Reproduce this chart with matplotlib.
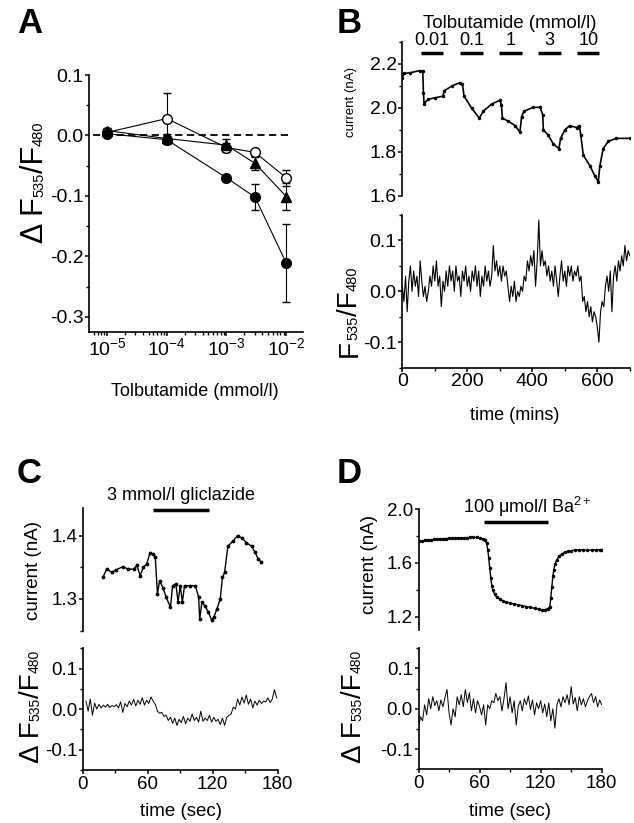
import numpy as np
import matplotlib
matplotlib.use('Agg')
import matplotlib.pyplot as plt
from matplotlib.ticker import MultipleLocator, FormatStrFormatter, LogLocator, NullFormatter

plt.rcParams['font.family'] = ['Liberation Sans', 'DejaVu Sans']
plt.rcParams['mathtext.fontset'] = 'custom'
plt.rcParams['mathtext.rm'] = 'Liberation Sans'
plt.rcParams['mathtext.it'] = 'Liberation Sans:italic'
plt.rcParams['mathtext.bf'] = 'Liberation Sans:bold'

# ---- panel A: dose response
conc = [1e-5, 1e-4, 1e-3, 3e-3, 1e-2]
open_mean = [0.005, 0.028, -0.020, -0.028, -0.070]
open_err = [0.004, 0.042, 0.008, 0.006, 0.013]
tri_mean = [0.008, -0.005, -0.016, -0.046, -0.101]
tri_err = [0.004, 0.008, 0.010, 0.011, 0.022]
fill_mean = [0.003, -0.007, -0.070, -0.102, -0.211]
fill_err = [0.004, 0.006, 0.005, 0.022, 0.065]

# ---- panel B: tolbutamide current trace (time in mins, current in nA)
b_t = [0, 5, 23, 54, 63, 65, 67, 80, 100, 126, 128, 152, 177, 185, 190, 213, 237, 249,
       275, 300, 305, 308, 326, 347, 362, 367, 374, 403, 424, 432, 434, 449, 464, 482,
       487, 500, 515, 536, 545, 549, 557, 577, 593, 603, 608, 618, 634, 659, 700]
b_cur = [2.138, 2.157, 2.160, 2.170, 2.166, 2.070, 2.020, 2.040, 2.046, 2.054, 2.077, 2.100,
         2.115, 2.108, 2.054, 2.000, 1.954, 1.985, 2.018, 2.035, 2.015, 1.954, 1.940, 1.920,
         1.890, 1.960, 1.985, 2.003, 2.003, 1.970, 1.900, 1.877, 1.838, 1.815, 1.862, 1.900,
         1.920, 1.911, 1.920, 1.877, 1.785, 1.738, 1.690, 1.665, 1.738, 1.815, 1.849, 1.862, 1.862]
tolb_conc = ['0.01', '0.1', '1', '3', '10']
tolb_start = [57, 177, 298, 418, 538]
tolb_end = [126, 249, 367, 487, 606]

# fluorescence ratio, every 5 min from 0 to 700
b_fret = [0.01, -0.02, 0.03, -0.04, 0.02, 0.05, 0.00, 0.04, 0.01, 0.03,
          -0.01, 0.06, 0.02, -0.01, 0.01, -0.02, 0.00, 0.03, 0.01, 0.05,
          0.02, 0.06, 0.01, 0.03, -0.03, 0.02, 0.00, 0.04, 0.01, 0.05,
          0.02, 0.04, 0.00, 0.05, 0.02, 0.03, -0.01, 0.04, 0.02, 0.05,
          0.01, 0.03, 0.00, 0.04, 0.02, 0.05, 0.01, 0.04, -0.01, 0.03,
          0.01, 0.05, 0.02, 0.04, 0.01, 0.03, 0.09, 0.04, 0.06, 0.03,
          0.05, 0.02, 0.05, 0.03, 0.04, 0.01, -0.02, 0.01, -0.01, 0.02,
          -0.02, 0.00, -0.01, 0.01, 0.00, 0.03, 0.02, 0.06, 0.04, 0.07,
          0.05, 0.08, 0.01, 0.06, 0.14, 0.05, 0.08, 0.05, 0.06, 0.03,
          0.05, 0.02, 0.04, 0.01, 0.05, 0.02, -0.01, 0.03, 0.06, 0.02,
          0.04, 0.01, 0.05, 0.03, 0.05, 0.02, 0.04, 0.03, 0.05, 0.02,
          0.03, -0.02, -0.01, -0.04, -0.02, -0.05, -0.03, -0.06, -0.04, -0.05,
          -0.07, -0.10, -0.04, -0.02, -0.03, 0.01, 0.03, 0.00, 0.04, -0.04,
          0.03, 0.05, 0.02, 0.06, 0.04, 0.07, 0.05, 0.09, 0.06, 0.08, 0.07]
b_fret_t = np.arange(len(b_fret)) * 5

# ---- panel C: gliclazide (time in sec)
c_t = [19, 22, 27, 31, 37, 42, 47, 50, 53, 56, 59, 62, 65, 67, 69, 71, 74, 77, 81, 83,
       86, 88, 90, 92, 94, 99, 104, 107, 108, 110, 113, 116, 119, 121, 124, 127, 129,
       131, 134, 139, 143, 147, 151, 156, 159, 162, 165]
c_cur = [1.335, 1.347, 1.342, 1.346, 1.351, 1.347, 1.347, 1.353, 1.337, 1.350, 1.355,
         1.372, 1.371, 1.366, 1.308, 1.329, 1.318, 1.303, 1.287, 1.321, 1.324, 1.295,
         1.321, 1.295, 1.321, 1.321, 1.321, 1.303, 1.268, 1.295, 1.289, 1.279, 1.267,
         1.271, 1.285, 1.300, 1.334, 1.342, 1.383, 1.392, 1.400, 1.396, 1.389, 1.383,
         1.374, 1.363, 1.358]
c_fret = [0.020, -0.005, 0.025, -0.015, 0.015, 0.000, 0.012, 0.003, 0.010, 0.005,
          0.012, 0.004, 0.009, 0.006, 0.011, 0.003, 0.018, -0.008, 0.014, 0.006,
          0.020, 0.010, 0.024, 0.008, 0.022, 0.012, 0.028, 0.010, 0.022, 0.014,
          0.030, 0.020, 0.012, -0.005, -0.010, -0.008, -0.018, -0.015, -0.028, -0.020,
          -0.035, -0.022, -0.040, -0.025, -0.033, -0.018, -0.036, -0.022, -0.030, -0.012,
          -0.028, -0.020, -0.032, -0.005, -0.030, -0.022, -0.028, -0.015, -0.032, -0.020,
          -0.030, -0.025, -0.038, -0.022, -0.040, -0.020, -0.015, -0.012, 0.005, 0.000,
          0.025, 0.010, 0.030, 0.015, 0.035, 0.012, 0.025, 0.003, 0.020, 0.010,
          0.022, 0.014, 0.020, 0.018, 0.028, 0.016, 0.025, 0.048, 0.028]
c_fret_t = 3 + np.arange(len(c_fret)) * 2

# ---- panel D: barium
d_t = [0, 3, 6, 9, 12, 15, 18, 21, 24, 27, 30, 33, 36, 39, 42, 45, 48, 51, 54, 57, 60, 63,
       65, 67, 68, 69, 70, 71, 72, 73, 75, 77, 80, 83, 86, 90, 94, 98, 102, 106, 110, 114,
       118, 121, 124, 127, 129, 130, 131, 132, 133, 134, 136, 138, 141, 144, 147, 150, 154,
       158, 162, 166, 170, 174, 178, 180]
d_cur = [1.760, 1.765, 1.768, 1.770, 1.772, 1.776, 1.778, 1.779, 1.781, 1.782, 1.783,
         1.784, 1.785, 1.786, 1.787, 1.788, 1.789, 1.790, 1.792, 1.790, 1.786, 1.780,
         1.772, 1.745, 1.700, 1.640, 1.560, 1.490, 1.430, 1.395, 1.365, 1.345, 1.328,
         1.316, 1.308, 1.300, 1.294, 1.288, 1.282, 1.275, 1.268, 1.262, 1.255, 1.250,
         1.252, 1.258, 1.275, 1.340, 1.420, 1.500, 1.550, 1.590, 1.625, 1.650, 1.668,
         1.680, 1.688, 1.692, 1.695, 1.698, 1.697, 1.694, 1.696, 1.698, 1.699, 1.699]
d_fret = [-0.045, -0.020, -0.030, 0.010, -0.015, 0.025, 0.000, 0.030, 0.008, 0.020,
          -0.005, 0.022, 0.005, 0.028, 0.048, -0.010, -0.040, 0.000, -0.020, 0.030,
          0.010, 0.035, 0.005, 0.048, 0.015, 0.040, -0.005, 0.025, -0.010, 0.020,
          0.005, -0.015, 0.010, -0.040, 0.010, 0.000, 0.020, 0.015, 0.038, 0.020,
          0.030, -0.005, 0.025, 0.065, 0.000, 0.030, -0.010, 0.020, -0.040, 0.005,
          0.020, -0.005, 0.025, 0.010, 0.032, -0.002, 0.022, -0.015, 0.015, 0.000,
          0.020, -0.010, 0.012, -0.020, 0.015, -0.030, 0.000, -0.048, 0.010, 0.025,
          0.005, 0.030, 0.015, 0.035, 0.010, 0.055, 0.012, 0.028, -0.005, 0.030,
          0.010, 0.025, 0.005, 0.020, 0.030, 0.038, 0.015, 0.030, 0.005, 0.022, 0.010]
d_fret_t = np.arange(len(d_fret)) * 2

W, H = 634, 823
fig = plt.figure(figsize=(W / 100, H / 100), dpi=100)


def box(l, t, r, b):
    # pixel box (image coords) -> figure rect
    return [l / W, 1 - b / H, (r - l) / W, (b - t) / H]


def style(ax, tick_size, bottom=True):
    for s in ['top', 'right']:
        ax.spines[s].set_visible(False)
    for s in ['left', 'bottom']:
        ax.spines[s].set_linewidth(1.2)
    ax.tick_params(which='major', direction='out', length=3, width=1.1, labelsize=tick_size, pad=1)
    ax.tick_params(which='minor', direction='out', length=2, width=1.0)
    if not bottom:
        ax.spines['bottom'].set_visible(False)
        ax.tick_params(axis='x', which='both', bottom=False, labelbottom=False)


def stack_label(x, y, parts):
    # rotated label built from pieces so the subscripts can be small
    r = fig.canvas.get_renderer()
    for s, size in parts:
        t = fig.text(x / W, 1 - y / H, s, fontsize=size, rotation=90,
                     rotation_mode='anchor', ha='left', va='baseline')
        y -= t.get_window_extent(r).height


def fret_axis(ax, xmax, major, minor):
    ax.set_ylim(-0.15, 0.15)
    ax.yaxis.set_major_locator(MultipleLocator(0.1))
    ax.yaxis.set_minor_locator(MultipleLocator(0.05))
    ax.yaxis.set_major_formatter(FormatStrFormatter('%.1f'))
    ax.set_xlim(0, xmax)
    ax.xaxis.set_major_locator(MultipleLocator(major))
    ax.xaxis.set_minor_locator(MultipleLocator(minor))


# ---------------- A
axA = fig.add_axes(box(89, 75, 303, 332))
axA.set_xscale('log')
axA.plot([10 ** -5.23, 10 ** -1.95], [0, 0], 'k', ls=(0, (4, 2.5)), lw=1.3)
axA.errorbar(conc, open_mean, yerr=open_err, fmt='o-', color='k', mfc='white', mec='k',
             ms=7, lw=0.8, capsize=3, elinewidth=0.8, mew=1.0)
axA.errorbar(conc, tri_mean, yerr=tri_err, fmt='^-', color='k', ms=7.5, lw=0.8,
             capsize=3, elinewidth=0.8)
axA.errorbar(conc, fill_mean, yerr=fill_err, fmt='o-', color='k', ms=7, lw=0.8,
             capsize=3, elinewidth=0.8)
axA.set_xlim(10 ** -5.3, 10 ** -1.72)
axA.set_ylim(-0.325, 0.1)
axA.yaxis.set_major_locator(MultipleLocator(0.1))
axA.yaxis.set_minor_locator(MultipleLocator(0.05))
axA.yaxis.set_major_formatter(FormatStrFormatter('%.1f'))
axA.xaxis.set_major_locator(LogLocator(base=10, numticks=10))
axA.xaxis.set_minor_locator(LogLocator(base=10, subs=np.arange(2, 10), numticks=10))
axA.xaxis.set_minor_formatter(NullFormatter())
style(axA, 14)
fig.text(195 / W, 1 - 391 / H, 'Tolbutamide (mmol/l)', fontsize=13, ha='center', va='center')
stack_label(43, 243, [('Δ F', 22), ('535', 10.5), ('/F', 22), ('480', 10.5)])

# ---------------- B
axB1 = fig.add_axes(box(402.3, 42, 629.8, 196))
axB1.plot(b_t, b_cur, 'k.-', ms=3, lw=1.2)
axB1.set_xlim(0, 700)
axB1.set_ylim(1.6, 2.3)
axB1.yaxis.set_major_locator(MultipleLocator(0.2))
axB1.yaxis.set_minor_locator(MultipleLocator(0.1))
axB1.yaxis.set_major_formatter(FormatStrFormatter('%.1f'))
style(axB1, 14, bottom=False)
for lab, s, e in zip(tolb_conc, tolb_start, tolb_end):
    axB1.plot([s, e], [2.25, 2.25], 'k-', lw=2.5, solid_capstyle='butt', clip_on=False)
    axB1.text((s + e) / 2, 2.306, lab, fontsize=13, ha='center', va='center')
axB1.text(331, 2.384, 'Tolbutamide (mmol/l)', fontsize=13.5, ha='center', va='center')
fig.text(351 / W, 1 - 102 / H, 'current (nA)', fontsize=9.5, rotation=90, ha='center', va='center')

axB2 = fig.add_axes(box(402.3, 215, 629.8, 367.7))
axB2.plot(b_fret_t, b_fret, 'k-', lw=0.8)
fret_axis(axB2, 700, 200, 100)
style(axB2, 14)
fig.text(515 / W, 1 - 415 / H, 'time (mins)', fontsize=13, ha='center', va='center')
stack_label(357, 357, [('F', 20), ('535', 10.5), ('/F', 20), ('480', 10.5)])

# ---------------- C
axC1 = fig.add_axes(box(82.7, 508.3, 277.7, 630.7))
axC1.plot(c_t, c_cur, 'k.-', ms=3.5, lw=1.0)
axC1.set_xlim(0, 180)
axC1.set_ylim(1.25, 1.443)
axC1.yaxis.set_major_locator(MultipleLocator(0.1))
axC1.yaxis.set_minor_locator(MultipleLocator(0.05))
axC1.yaxis.set_major_formatter(FormatStrFormatter('%.1f'))
style(axC1, 13.5, bottom=False)
axC1.plot([64.6, 116.3], [1.4406, 1.4406], 'k-', lw=2.5, solid_capstyle='butt', clip_on=False)
axC1.text(91, 1.463, '3 mmol/l gliclazide', fontsize=13, ha='center', va='center')
fig.text(33 / W, 1 - 570 / H, 'current (nA)', fontsize=13.5, rotation=90, ha='center', va='center')

axC2 = fig.add_axes(box(82.7, 648.3, 277.7, 770))
axC2.plot(c_fret_t, c_fret, 'k-', lw=0.7)
fret_axis(axC2, 180, 60, 30)
style(axC2, 13.5)
fig.text(181 / W, 1 - 812 / H, 'time (sec)', fontsize=13.5, ha='center', va='center')
stack_label(39, 763, [('Δ F', 20), ('535', 10), ('/F', 20), ('480', 10)])

# ---------------- D
axD1 = fig.add_axes(box(418.5, 509.3, 601.7, 630))
axD1.plot(d_t, d_cur, 'k.-', ms=3, lw=1.0)
axD1.set_xlim(0, 180)
axD1.set_ylim(1.1, 2.0)
axD1.yaxis.set_major_locator(MultipleLocator(0.4))
axD1.yaxis.set_minor_locator(MultipleLocator(0.2))
axD1.yaxis.set_major_formatter(FormatStrFormatter('%.1f'))
style(axD1, 13.5, bottom=False)
axD1.plot([64.3, 127], [1.906, 1.906], 'k-', lw=2.5, solid_capstyle='butt', clip_on=False)
axD1.text(106.6, 2.017, '100 μmol/l Ba$^{2+}$', fontsize=13, ha='center', va='center')
fig.text(370 / W, 1 - 565 / H, 'current (nA)', fontsize=13.5, rotation=90, ha='center', va='center')

axD2 = fig.add_axes(box(418.5, 648.3, 601.7, 769.3))
axD2.plot(d_fret_t, d_fret, 'k-', lw=0.7)
fret_axis(axD2, 180, 60, 30)
style(axD2, 13.5)
fig.text(510 / W, 1 - 812 / H, 'time (sec)', fontsize=13.5, ha='center', va='center')
stack_label(361, 763, [('Δ F', 20), ('535', 10), ('/F', 20), ('480', 10)])

# panel letters
for letter, x, y in [('A', 17, 33), ('B', 337, 33), ('C', 17, 483), ('D', 337, 483)]:
    fig.text(x / W, 1 - y / H, letter, fontsize=25, fontweight='bold', va='baseline')

fig.savefig('out.png', dpi=100)
